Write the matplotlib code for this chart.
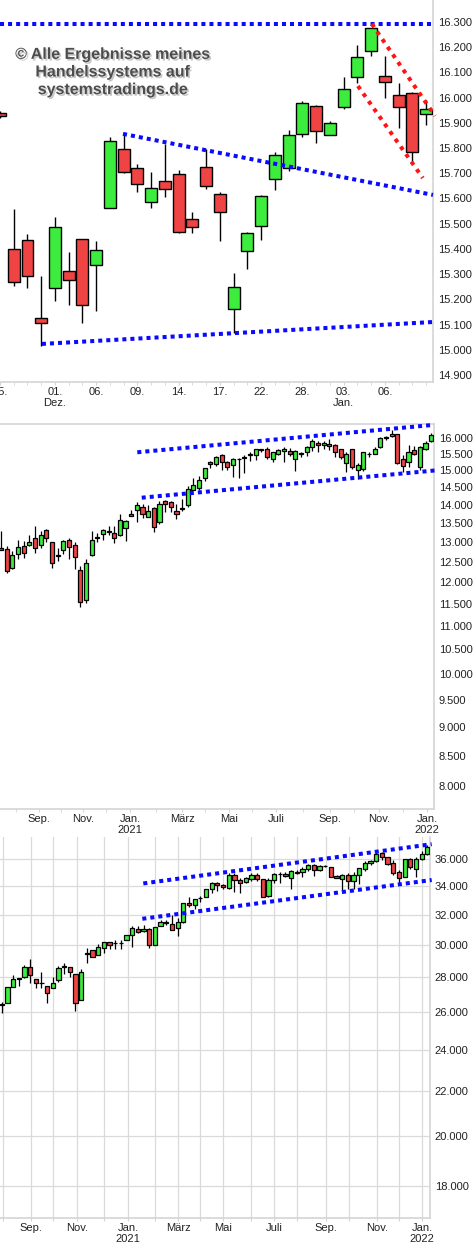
import matplotlib
matplotlib.use("Agg")
import matplotlib.pyplot as plt
import matplotlib.patheffects as pe
from matplotlib.ticker import FuncFormatter, NullLocator
import numpy as np

plt.rcParams['font.family'] = ['Liberation Sans', 'DejaVu Sans']

# ---- panel 1: DAX daily (25 Nov 2021 - 11 Jan 2022) ----
d_open = [15939, 15400, 15435, 15126, 15245, 15312, 15439, 15336, 15562, 15796, 15721,
          15586, 15669, 15697, 15519, 15725, 15618, 15162, 15392, 15491, 15677, 15721,
          15856, 15967, 15852, 15963, 16082, 16185, 16086, 16010, 16018, 15935]
d_high = [15945, 15558, 15459, 15293, 15527, 15388, 15439, 15431, 15844, 15860, 15737,
          15705, 15816, 15713, 15546, 15796, 15626, 15305, 15467, 15615, 15784, 15872,
          15987, 15971, 15907, 16082, 16209, 16276, 16165, 16058, 16022, 15991]
d_low = [15920, 15253, 15245, 15015, 15193, 15178, 15106, 15154, 15562, 15701, 15626,
         15562, 15606, 15463, 15463, 15638, 15431, 15067, 15320, 15435, 15634, 15709,
         15844, 15820, 15852, 15955, 16058, 16165, 15999, 15880, 15745, 15891]
d_close = [15927, 15269, 15293, 15106, 15487, 15277, 15178, 15396, 15828, 15705, 15658,
           15642, 15638, 15467, 15487, 15650, 15546, 15249, 15463, 15610, 15773, 15852,
           15979, 15868, 15899, 16034, 16161, 16276, 16062, 15963, 15784, 15955]
d_tick_pos = [0, 4, 7, 10, 13, 16, 19, 22, 25, 28]
d_tick_lab = ["25.", "01.\nDez.", "06.", "09.", "14.", "17.", "22.", "28.", "03.\nJan.", "06."]
d_yticks = list(range(14900, 16301, 100))

# ---- panel 2: DAX weekly ----
w_open = [12840, 12830, 12350, 12705, 12908, 12933, 13114, 12922, 13323, 12999, 12650,
          12804, 13062, 12941, 12290, 11597, 12670, 13120, 13208, 13270, 13235, 13200,
          13378, 13754, 13862, 13945, 13672, 13917, 13537, 14119, 14081, 13835, 13900,
          13990, 14432, 14497, 14760, 15256, 15179, 15469, 15246, 15156, 15340, 15390,
          15460, 15459, 15625, 15668, 15340, 15511, 15592, 15592, 15359, 15505, 15572,
          15704, 15851, 15787, 15810, 15769, 15646, 15208, 15646, 15006, 15056, 15495,
          15500, 15704, 15990, 16074, 16118, 15359, 15266, 15608, 15095, 15655, 15904]
w_high = [13306, 12897, 12770, 13052, 13026, 13182, 13420, 13288, 13350, 12999, 12859,
          13070, 13114, 13009, 12389, 12580, 13288, 13248, 13350, 13420, 13438, 13754,
          13599, 13853, 14072, 14027, 14000, 13945, 14100, 14149, 14109, 14027, 14177,
          14555, 14770, 14838, 15086, 15286, 15440, 15490, 15297, 15370, 15370, 15469,
          15551, 15668, 15668, 15704, 15572, 15668, 15725, 15682, 15633, 15572, 15756,
          15958, 15914, 15894, 15958, 15810, 15668, 15551, 15646, 15236, 15551, 15572,
          15704, 16032, 16074, 16257, 16128, 15479, 15779, 15746, 15746, 15914, 16150]
w_low = [12795, 12233, 12333, 12580, 12596, 12897, 12731, 12846, 13016, 12341, 12520,
         12687, 12580, 12333, 11437, 11528, 12645, 13016, 13070, 13200, 12980, 13174,
         13026, 13690, 13537, 13636, 13672, 13270, 13483, 13798, 13798, 13626, 13835,
         13935, 14413, 14413, 14683, 15086, 15126, 15016, 15026, 14799, 14760, 14918,
         15297, 15307, 15572, 15349, 15246, 15459, 15246, 15440, 14996, 15419, 15440,
         15592, 15572, 15646, 15624, 15399, 15359, 14949, 15043, 14740, 14986, 15419,
         15490, 15682, 15936, 16042, 15179, 14966, 15095, 15469, 15016, 15624, 15882]
w_close = [12813, 12274, 12662, 12881, 12720, 13009, 12846, 13183, 13104, 12465, 12670,
           13036, 12881, 12628, 11551, 12465, 13062, 13140, 13314, 13290, 13104, 13599,
           13572, 13700, 14000, 13754, 13844, 13408, 14027, 14027, 13945, 13754, 13915,
           14451, 14576, 14721, 15066, 15179, 15409, 15246, 15095, 15330, 15355, 15405,
           15500, 15646, 15640, 15399, 15551, 15608, 15646, 15500, 15602, 15515, 15704,
           15914, 15769, 15851, 15746, 15551, 15419, 15490, 15095, 15156, 15551, 15505,
           15646, 16000, 16042, 16118, 15208, 15146, 15572, 15500, 15704, 15831, 16096]
w_tick_pos = [6.7, 14.5, 22.8, 32.0, 40.3, 48.6, 58.1, 66.8, 75.3]
w_tick_lab = ["Sep.", "Nov.", "Jan.\n2021", "März", "Mai", "Juli", "Sep.", "Nov.", "Jan.\n2022"]
w_minor = [2.6, 10.6, 18.6, 27.4, 36.1, 44.4, 53.3, 62.4, 71.0]
w_yticks = list(range(8000, 16001, 500))

# ---- panel 3: Dow Jones weekly ----
j_open = [26420, 26496, 27450, 27950, 28040, 28600, 27880, 27660, 27490, 27357, 27824,
          28620, 28600, 28180, 26664, 29440, 29650, 29340, 29820, 30200, 30120, 30120,
          30290, 30614, 31000, 30870, 31000, 30010, 31200, 31450, 31330, 31070, 31470,
          32780, 32630, 33120, 33190, 33760, 34180, 34040, 33870, 34780, 34410, 34250,
          34530, 34780, 34500, 33300, 34410, 34850, 34860, 34560, 35040, 35000, 35220,
          35520, 35140, 35440, 35370, 34710, 34480, 34780, 34330, 34780, 35220, 35670,
          35820, 36430, 36130, 35670, 35000, 34630, 35980, 35220, 35980, 36360]
j_high = [26570, 27450, 28138, 27960, 28742, 29110, 27880, 28300, 27490, 28000, 28680,
          28900, 28600, 28180, 28480, 29820, 29650, 30070, 30200, 30200, 30330, 30300,
          30614, 31200, 31200, 31270, 31070, 31130, 31625, 31625, 31990, 31730, 32760,
          33190, 33060, 33280, 33800, 34250, 34250, 34110, 34920, 34920, 34560, 34680,
          34920, 34920, 34500, 34560, 34920, 35000, 35040, 35170, 35170, 35370, 35600,
          35600, 35520, 35520, 35370, 34780, 34860, 34920, 35000, 35300, 35820, 35900,
          36510, 36510, 36130, 35900, 35140, 35980, 36050, 36130, 36590, 37050]
j_low = [25937, 26496, 27450, 27500, 27980, 27646, 27390, 27357, 26496, 27357, 27705,
         28180, 28000, 26080, 26664, 28900, 29240, 29340, 29464, 29760, 29760, 29760,
         30290, 29880, 30740, 30830, 29820, 30010, 31200, 31270, 30940, 30550, 31400,
         32500, 32350, 32870, 33190, 33470, 33620, 33760, 33760, 33550, 33470, 34180,
         34330, 34330, 33230, 33230, 34180, 34180, 34680, 33760, 34860, 34680, 35080,
         34710, 35080, 35370, 34630, 34560, 33620, 33760, 33760, 34110, 35080, 35520,
         35750, 35900, 35520, 34780, 34040, 34630, 35220, 34680, 35900, 36280]
j_close = [26460, 27413, 27880, 27900, 28600, 28120, 27646, 27700, 27100, 27646, 28540,
           28660, 28300, 26496, 28300, 29480, 29240, 29860, 30200, 30010, 30150, 30150,
           30614, 31070, 30830, 31000, 29970, 31130, 31470, 31490, 30940, 31470, 32760,
           32630, 33060, 33160, 33800, 34180, 34040, 33900, 34780, 34410, 34180, 34560,
           34780, 34480, 33230, 34430, 34840, 34870, 34710, 35080, 34920, 35220, 35520,
           35140, 35450, 35460, 34630, 34560, 34780, 34330, 34780, 35300, 35670, 35820,
           36360, 36130, 35600, 34920, 34560, 35980, 35370, 35980, 36360, 36900]
j_months = [0.18, 5.11, 9.04, 13.27, 18.03, 22.26, 27.01, 31.07, 34.94, 39.0, 43.93,
            47.98, 52.03, 57.15, 61.2, 66.13, 70.01, 74.06]
j_month_lab = ["", "Sep.", "", "Nov.", "", "Jan.\n2021", "", "März", "", "Mai", "",
               "Juli", "", "Sep.", "", "Nov.", "", "Jan.\n2022"]
j_yticks = list(range(18000, 36001, 2000))

GREEN = "#3ded3d"
RED = "#f04444"
BLUE = "#0a0aff"
AXIS_GRAY = "#d4d4d4"

thousands = FuncFormatter(lambda v, p: f"{v:,.0f}".replace(",", "."))


def draw_candles(ax, o, h, l, c, width, lw):
    o, h, l, c = map(np.asarray, (o, h, l, c))
    x = np.arange(len(o))
    up = c >= o
    ax.vlines(x, l, h, color="black", lw=lw, zorder=2)
    bottom = np.minimum(o, c)
    height = np.maximum(np.abs(c - o), 1e-6)
    ax.bar(x, height, width=width, bottom=bottom,
           color=np.where(up, GREEN, RED), edgecolor="black", linewidth=lw, zorder=3)


def dotted(ax, xs, ys, color, gap=1.0):
    ax.plot(xs, ys, color=color, lw=2.9, linestyle=(0, (1, gap)),
            zorder=4, clip_on=False)


def style_axis(ax):
    ax.set_facecolor("white")
    ax.yaxis.tick_right()
    ax.spines["left"].set_visible(False)
    for s in ("right", "bottom", "top"):
        ax.spines[s].set_color(AXIS_GRAY)
        ax.spines[s].set_linewidth(1.2)
    ax.tick_params(axis="y", length=0, pad=3.5, labelsize=8.0, labelcolor="#222222")
    ax.tick_params(axis="x", which="both", direction="out", length=2.5,
                   color=AXIS_GRAY, pad=1, labelsize=8.0, labelcolor="#222222")
    ax.yaxis.set_major_formatter(thousands)
    ax.yaxis.set_minor_locator(NullLocator())


fig = plt.figure(figsize=(4.75, 12.5), dpi=100)
W, H = 475, 1250


def box(left, top, right, bottom):
    return [left / W, 1 - bottom / H, (right - left) / W, (bottom - top) / H]


# --- panel 1 ---
ax1 = fig.add_axes(box(0, 0, 433, 382))
style_axis(ax1)
ax1.spines["top"].set_visible(False)
draw_candles(ax1, d_open, d_high, d_low, d_close, 0.87, 1.0)
ax1.set_xlim(0, 31.5)
ax1.set_ylim(14872, 16387)
ax1.set_yticks(d_yticks)
ax1.set_xticks(d_tick_pos, d_tick_lab)
ax1.set_xticks(range(0, 32), minor=True)
dotted(ax1, [0, 31.5], [16290, 16290], BLUE)
dotted(ax1, [8.95, 31.5], [15856, 15614], BLUE)
dotted(ax1, [3.05, 31.5], [15023, 15110], BLUE)
dotted(ax1, [27.05, 31.65], [16292, 15927], "#ff1414", 1.3)
dotted(ax1, [26.04, 30.76], [16046, 15681], "#ff1414", 1.3)

fig.text(113 / W, 1 - 72 / H,
         "© Alle Ergebnisse meines\nHandelssystems auf\nsystemstradings.de",
         ha="center", va="center", multialignment="center", fontsize=11.5,
         fontweight="bold", color="#4d4d4d", linespacing=1.22,
         path_effects=[pe.withSimplePatchShadow(offset=(1.2, -1.2),
                                                shadow_rgbFace="#a0a0a0", alpha=0.6)])

# --- panel 2 ---
ax2 = fig.add_axes(box(0, 424, 434, 809))
style_axis(ax2)
ax2.set_yscale("log")
draw_candles(ax2, w_open, w_high, w_low, w_close, 0.72, 0.9)
ax2.set_xlim(-0.18, 76.5)
ax2.set_ylim(7642, 16452)
ax2.set_yticks(w_yticks)
ax2.yaxis.set_major_formatter(thousands)
ax2.yaxis.set_minor_locator(NullLocator())
ax2.set_xticks(w_tick_pos, w_tick_lab)
ax2.set_xticks(w_minor, minor=True)
dotted(ax2, [24.08, 76.38], [15551, 16422], BLUE)
dotted(ax2, [24.86, 76.86], [14206, 15001], BLUE)

# --- panel 3 ---
ax3 = fig.add_axes(box(0, 837, 430, 1218))
style_axis(ax3)
ax3.spines["top"].set_visible(False)
ax3.set_yscale("log")
draw_candles(ax3, j_open, j_high, j_low, j_close, 0.75, 0.9)
ax3.set_xlim(-0.3, 75.47)
ax3.set_ylim(16806, 37720)
ax3.set_yticks(j_yticks)
ax3.yaxis.set_major_formatter(thousands)
ax3.yaxis.set_minor_locator(NullLocator())
ax3.set_xticks(j_months, j_month_lab)
ax3.grid(True, color="#dadada", lw=0.9, zorder=0)
ax3.set_axisbelow(True)
dotted(ax3, [24.95, 75.77], [34180, 37150], BLUE)
dotted(ax3, [24.78, 75.77], [31710, 34430], BLUE)

fig.savefig("out.png", dpi=100, facecolor="white")
